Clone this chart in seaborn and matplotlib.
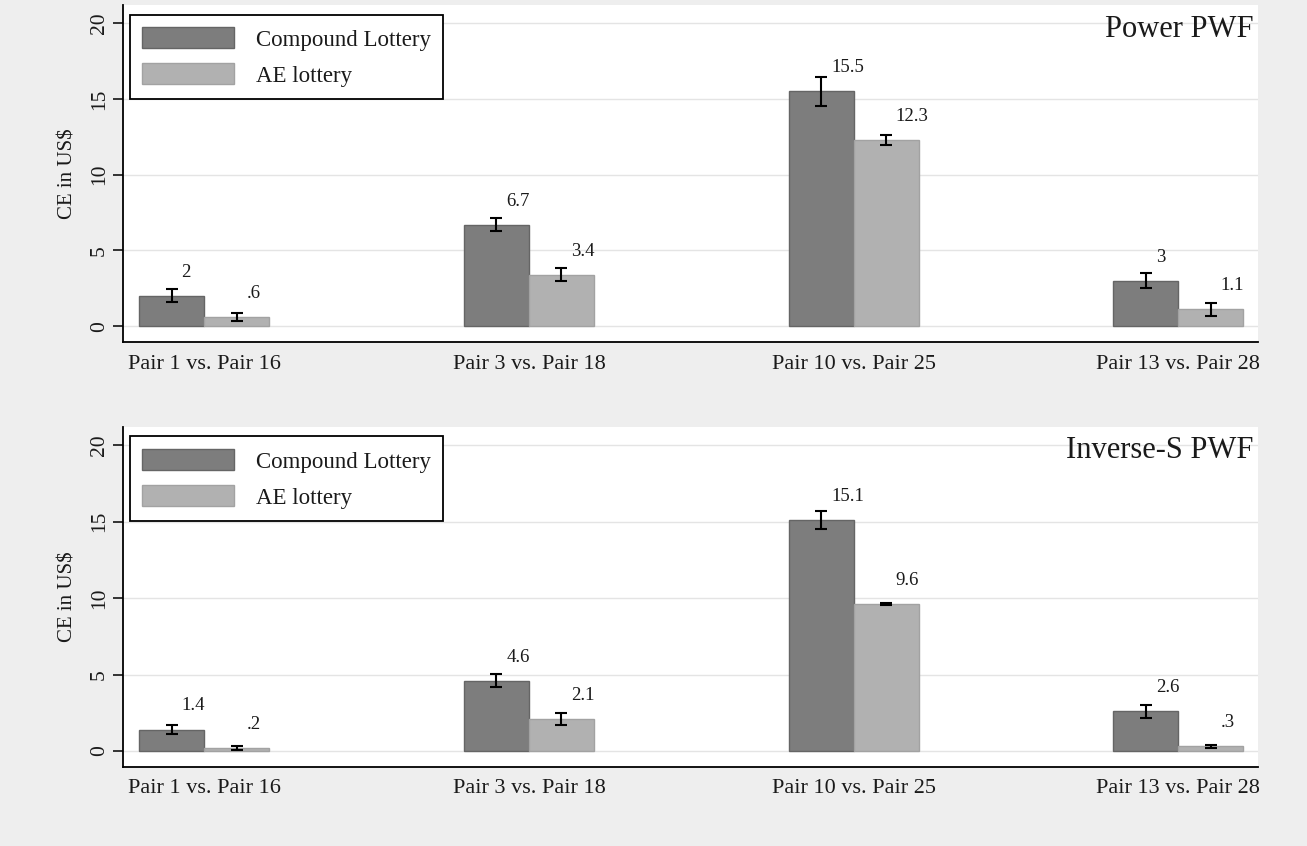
import matplotlib
matplotlib.use("Agg")
import matplotlib.pyplot as plt
import pandas as pd
import seaborn as sns
from matplotlib.patches import Patch

# ---- data ---------------------------------------------------------------
pairs = ["Pair 1 vs. Pair 16", "Pair 3 vs. Pair 18",
         "Pair 10 vs. Pair 25", "Pair 13 vs. Pair 28"]
series = ["Compound Lottery", "AE lottery"]
panel_titles = ["Power PWF", "Inverse-S PWF"]

power_compound = [2.0, 6.7, 15.5, 3.0]
power_ae = [0.6, 3.4, 12.3, 1.1]
power_compound_err = [0.43, 0.45, 0.95, 0.50]
power_ae_err = [0.25, 0.45, 0.35, 0.45]

inv_compound = [1.4, 4.6, 15.1, 2.6]
inv_ae = [0.2, 2.1, 9.6, 0.3]
inv_compound_err = [0.30, 0.42, 0.60, 0.43]
inv_ae_err = [0.12, 0.37, 0.05, 0.08]

y_ticks = [0, 5, 10, 15, 20]

# ---- style --------------------------------------------------------------
sns.set_style("white")
plt.rcParams["font.family"] = ["Liberation Serif", "DejaVu Serif"]

BG = "#eeeeee"
DARK, DARK_EDGE = "#7d7d7d", "#656565"
LIGHT, LIGHT_EDGE = "#b1b1b1", "#a2a2a2"
TEXT = "#1a1a1a"


def stata_label(v):
    s = f"{v:g}"
    if s.startswith("0."):
        s = s[1:]
    return s


def draw_panel(ax, comp, ae, comp_err, ae_err, title):
    df = pd.DataFrame({
        "pair": pairs * 2,
        "series": [series[0]] * len(pairs) + [series[1]] * len(pairs),
        "ce": list(comp) + list(ae),
    })
    sns.barplot(data=df, x="pair", y="ce", hue="series", order=pairs,
                hue_order=series, palette=[DARK, LIGHT], width=0.4,
                errorbar=None, saturation=1, legend=False, ax=ax, zorder=2)

    for container, errs, edge in zip(ax.containers, [comp_err, ae_err],
                                     [DARK_EDGE, LIGHT_EDGE]):
        for bar, e in zip(container, errs):
            bar.set_edgecolor(edge)
            bar.set_linewidth(1.0)
            cx = bar.get_x() + bar.get_width() / 2
            h = bar.get_height()
            ax.errorbar(cx, h, yerr=e, color="black", capsize=4.5,
                        elinewidth=1.5, capthick=1.5, zorder=3)
            ax.annotate(stata_label(h), xy=(cx, h), xytext=(7, 17),
                        textcoords="offset points", ha="left", va="center",
                        fontsize=13.5, color=TEXT)

    ax.set_facecolor("white")
    ax.set_ylim(-1.05, 21.2)
    ax.set_xlim(-0.25, 3.245)
    ax.set_yticks(y_ticks)
    ax.set_yticklabels([str(t) for t in y_ticks], rotation=90, va="center")
    ax.yaxis.grid(True, color="#e4e4e4", lw=1.0, zorder=0)
    ax.xaxis.grid(False)
    ax.set_axisbelow(True)

    ax.tick_params(axis="y", length=7, width=1.1, labelsize=15.5, pad=3,
                   left=True, color="black", labelcolor=TEXT)
    ax.tick_params(axis="x", length=0, labelsize=16, pad=9, labelcolor=TEXT)
    ax.set_xlabel("")
    ax.set_ylabel("CE in US$", fontsize=15, labelpad=9, color=TEXT)

    sns.despine(ax=ax, top=True, right=True)
    for side in ["left", "bottom"]:
        ax.spines[side].set_color("black")
        ax.spines[side].set_linewidth(1.3)

    ax.text(0.996, 0.972, title, transform=ax.transAxes, ha="right",
            va="top", fontsize=22, color=TEXT)

    handles = [Patch(facecolor=DARK, edgecolor=DARK_EDGE),
               Patch(facecolor=LIGHT, edgecolor=LIGHT_EDGE)]
    leg = ax.legend(handles=handles, labels=series, loc="upper left",
                    bbox_to_anchor=(0.006, 0.972), borderaxespad=0,
                    frameon=True, fancybox=False, edgecolor="black",
                    framealpha=1, fontsize=16.5, handlelength=4.0,
                    handleheight=1.05, handletextpad=0.95, labelspacing=0.55,
                    borderpad=0.55)
    for t in leg.get_texts():
        t.set_color(TEXT)
    leg.get_frame().set_linewidth(1.3)


fig = plt.figure(figsize=(13.07, 8.46), dpi=100, facecolor=BG)
ax_top = fig.add_axes([0.0941, 0.5957, 0.8684, 0.3983])
ax_bot = fig.add_axes([0.0941, 0.0934, 0.8684, 0.4019])

draw_panel(ax_top, power_compound, power_ae, power_compound_err,
           power_ae_err, panel_titles[0])
draw_panel(ax_bot, inv_compound, inv_ae, inv_compound_err,
           inv_ae_err, panel_titles[1])

fig.savefig("out.png", dpi=100, facecolor=BG)
